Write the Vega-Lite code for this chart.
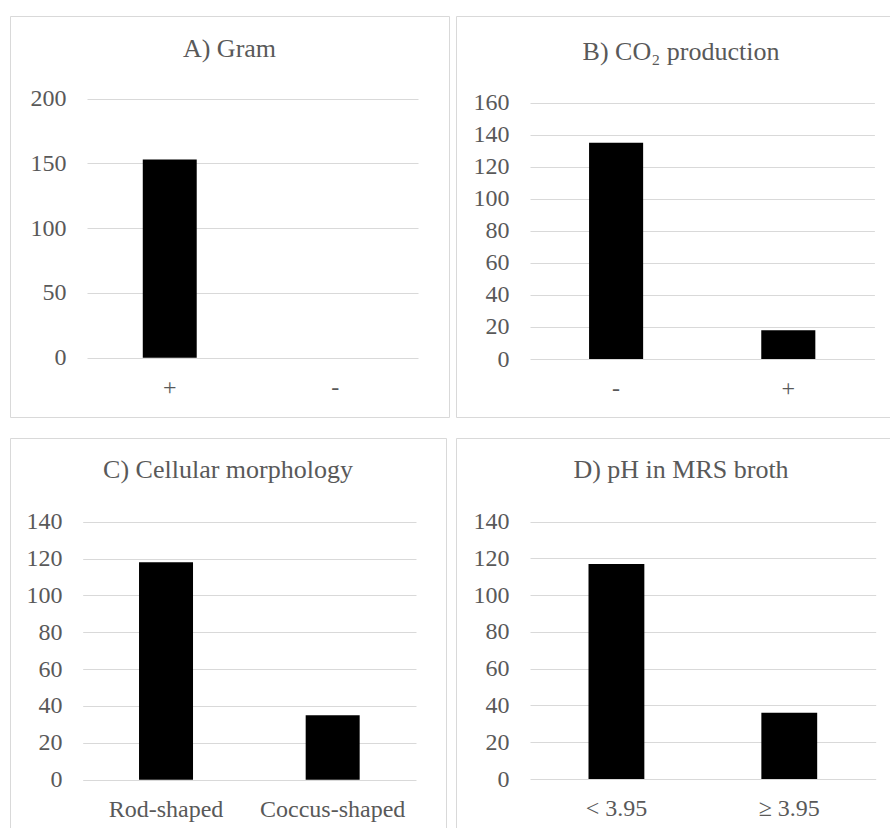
{
  "$schema": "https://vega.github.io/schema/vega-lite/v6.json",
  "padding": {"left": 9, "top": 15, "right": 0, "bottom": 0},
  "background": "white",
  "datasets": {
    "gram": [{"category": "+", "count": 153}, {"category": "-", "count": 0}],
    "co2": [{"category": "-", "count": 135}, {"category": "+", "count": 18}],
    "morphology": [{"category": "Rod-shaped", "count": 118}, {"category": "Coccus-shaped", "count": 35}],
    "ph": [{"category": "< 3.95", "count": 117}, {"category": "≥ 3.95", "count": 36}]
  },
  "config": {
    "view": {"stroke": "#d9d9d9", "strokeWidth": 1},
    "font": "Liberation Serif, Times New Roman, serif",
    "axis": {"labelFont": "Liberation Serif, Times New Roman, serif", "labelFontSize": 24, "labelColor": "#595959", "domain": false, "ticks": false, "tickSize": 0, "gridColor": "#d9d9d9", "gridWidth": 1},
    "title": {"font": "Liberation Serif, Times New Roman, serif", "fontSize": 26, "fontWeight": "normal", "color": "#595959", "anchor": "middle", "frame": "group", "baseline": "alphabetic"}
  },
  "spacing": 19,
  "vconcat": [
    {
      "spacing": 5,
      "hconcat": [
        {
          "width": 439, "height": 401,
          "title": {"text": "A) Gram", "offset": -45.5},
          "data": {"name": "gram"},
          "mark": {"type": "bar", "color": "black"},
          "encoding": {
            "x": {"field": "category", "type": "nominal", "sort": null, "title": null,
              "scale": {"range": [77, 408], "paddingInner": 0.674, "paddingOuter": 0.337},
              "axis": {"labelAngle": 0, "offset": -59.3, "labelPadding": 36.5, "labelBaseline": "alphabetic", "grid": false}},
            "y": {"field": "count", "type": "quantitative", "title": null,
              "scale": {"domain": [0, 200], "range": [341.7, 82.7], "nice": false},
              "axis": {"values": [0, 50, 100, 150, 200], "offset": -77, "labelPadding": 21, "grid": true}}
          }
        },
        {
          "width": 450, "height": 401,
          "title": {"text": "B) CO₂ production", "offset": -48.5},
          "data": {"name": "co2"},
          "mark": {"type": "bar", "color": "black"},
          "encoding": {
            "x": {"field": "category", "type": "nominal", "sort": null, "title": null,
              "scale": {"range": [74, 418.4], "paddingInner": 0.686, "paddingOuter": 0.343},
              "axis": {"labelAngle": 0, "offset": -58, "labelPadding": 36.5, "labelBaseline": "alphabetic", "grid": false}},
            "y": {"field": "count", "type": "quantitative", "title": null,
              "scale": {"domain": [0, 160], "range": [343, 86.7], "nice": false},
              "axis": {"values": [0, 20, 40, 60, 80, 100, 120, 140, 160], "offset": -74, "labelPadding": 21, "grid": true}}
          }
        }
      ]
    },
    {
      "spacing": 8,
      "hconcat": [
        {
          "width": 436, "height": 400,
          "title": {"text": "C) Cellular morphology", "offset": -44.5},
          "data": {"name": "morphology"},
          "mark": {"type": "bar", "color": "black"},
          "encoding": {
            "x": {"field": "category", "type": "nominal", "sort": null, "title": null,
              "scale": {"range": [72.7, 406], "paddingInner": 0.676, "paddingOuter": 0.338},
              "axis": {"labelAngle": 0, "offset": -58.3, "labelPadding": 36.6, "labelBaseline": "alphabetic", "grid": false}},
            "y": {"field": "count", "type": "quantitative", "title": null,
              "scale": {"domain": [0, 140], "range": [341.7, 83.7], "nice": false},
              "axis": {"values": [0, 20, 40, 60, 80, 100, 120, 140], "offset": -72.7, "labelPadding": 20.7, "grid": true}}
          }
        },
        {
          "width": 450, "height": 400,
          "title": {"text": "D) pH in MRS broth", "offset": -45.2},
          "data": {"name": "ph"},
          "mark": {"type": "bar", "color": "black"},
          "encoding": {
            "x": {"field": "category", "type": "nominal", "sort": null, "title": null,
              "scale": {"range": [74, 419.7], "paddingInner": 0.677, "paddingOuter": 0.3385},
              "axis": {"labelAngle": 0, "offset": -59, "labelPadding": 36.6, "labelBaseline": "alphabetic", "grid": false}},
            "y": {"field": "count", "type": "quantitative", "title": null,
              "scale": {"domain": [0, 140], "range": [341, 83.7], "nice": false},
              "axis": {"values": [0, 20, 40, 60, 80, 100, 120, 140], "offset": -74, "labelPadding": 21, "grid": true}}
          }
        }
      ]
    }
  ]
}
